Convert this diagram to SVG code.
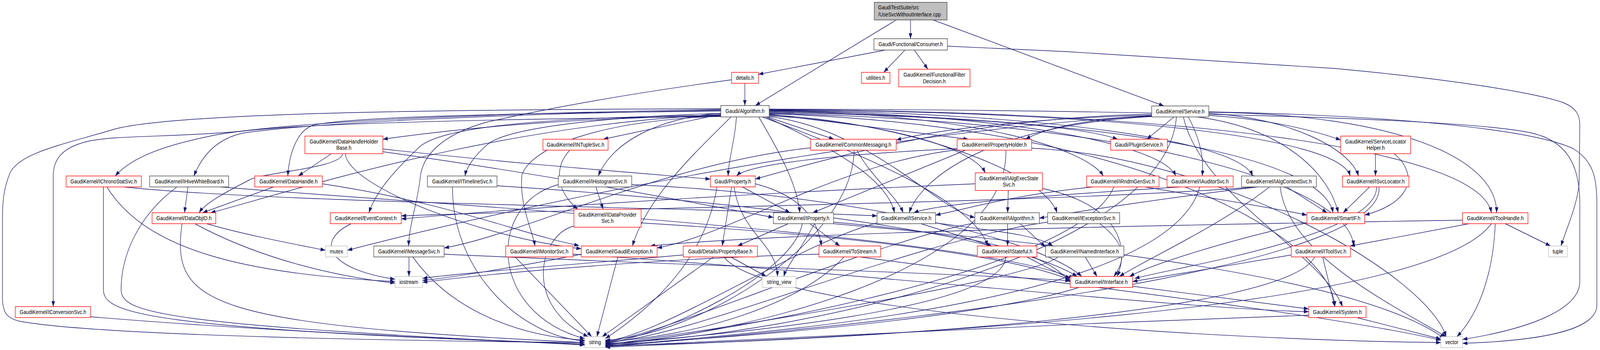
<svg xmlns="http://www.w3.org/2000/svg" width="4597" height="895" viewBox="0 0 4597 895" preserveAspectRatio="none" style="display:block;width:100vw;height:100vh">
<defs>
<marker id="ah" viewBox="0 0 14 10" refX="14" refY="5" markerWidth="14" markerHeight="10" markerUnits="userSpaceOnUse" orient="auto"><path d="M0,0 L14,5 L0,10 z" fill="#191970"/></marker>
<style>
.bx{fill:#fff;stroke-width:1.4}
.r{stroke:#ff0000}
.k{stroke:#404040}
.g{stroke:#bfbfbf}
text{font-family:"Liberation Sans",Arial,sans-serif;font-size:14px;fill:#000;text-anchor:middle}
.e{fill:none;stroke:#191970;stroke-width:1.4;marker-end:url(#ah)}
</style>
</defs>
<rect width="4597" height="895" fill="#fff"/>
<g id="edges">
<path class="e" d="M2616,51 L2616,99"/>
<path class="e" d="M2575,51 L2170,270"/>
<path class="e" d="M2681,51 L3344,271"/>
<path class="e" d="M2544,128 L2179,190"/>
<path class="e" d="M2600,128 L2539,185"/>
<path class="e" d="M2627,128 L2666,177"/>
<path class="e" d="M2722,118 L3064,132 L3834,175 C4200,205 4420,240 4490,262 C4530,276 4539,295 4539,320 L4537,470 C4530,530 4500,585 4485,629"/>
<path class="e" d="M2140,213 L2140,270"/>
<path class="e" d="M2102,204 C1800,240 1560,280 1400,312 C1265,345 1215,400 1208,450 C1200,520 1176,570 1174,629"/>
<path class="e" d="M2071,292 L1733,356"/>
<path class="e" d="M2071,296 C1700,302 1400,318 1100,356"/>
<path class="e" d="M2071,280 C1400,290 850,310 620,345 C480,370 380,400 331,450"/>
<path class="e" d="M2071,282 C1400,292 900,315 700,340 C620,355 580,400 557,450"/>
<path class="e" d="M2071,284 C1400,290 1000,300 900,320 C850,335 830,400 827,450"/>
<path class="e" d="M2071,290 C1700,300 1450,330 1400,370 C1360,400 1340,430 1336,450"/>
<path class="e" d="M2071,290 C1900,300 1760,360 1719,450"/>
<path class="e" d="M2071,293 C1400,320 800,500 605,544"/>
<path class="e" d="M2071,295 C1500,300 1250,330 1200,380 C1130,440 1080,490 1060,544"/>
<path class="e" d="M2071,297 C1700,310 1530,380 1500,445 C1490,520 1530,590 1537,629"/>
<path class="e" d="M2071,298 C1400,305 900,315 700,335 C500,352 330,345 250,362 C175,378 153,410 153,450 L153,784"/>
<path class="e" d="M2071,278 C1200,280 500,290 330,330 C180,370 60,390 30,440 C10,480 7,520 7,560 L7,760 C7,800 20,815 60,822 C300,860 1200,872 1680,876"/>
<path class="e" d="M2100,299 C2010,380 1860,500 1817,629"/>
<path class="e" d="M2116,299 C2110,370 2094,400 2092,450"/>
<path class="e" d="M2180,299 C2240,390 2290,470 2298,544"/>
<path class="e" d="M2205,299 L2396,356"/>
<path class="e" d="M2210,292 L2782,356"/>
<path class="e" d="M2210,288 C2700,295 3100,320 3211,356"/>
<path class="e" d="M2210,296 C2500,310 2790,370 2831,442"/>
<path class="e" d="M2210,284 C2800,290 3120,380 3170,450"/>
<path class="e" d="M2210,283 C2900,290 3340,370 3378,450"/>
<path class="e" d="M2210,282 C3000,288 3560,360 3599,450"/>
<path class="e" d="M2210,281 C3200,285 3850,350 3879,450"/>
<path class="e" d="M2200,299 C2400,380 2550,460 2570,544"/>
<path class="e" d="M2210,298 C2500,330 2700,540 2801,556"/>
<path class="e" d="M2210,294 C2600,310 3000,440 3037,544"/>
<path class="e" d="M2210,286 C3200,300 3800,400 3830,544"/>
<path class="e" d="M2210,280 C3400,284 4250,380 4285,544"/>
<path class="e" d="M2190,299 C2500,400 2800,520 2838,629"/>
<path class="e" d="M2210,290 C3300,310 3880,480 3889,629"/>
<path class="e" d="M2210,291 C3300,320 3830,620 3835,784"/>
<path class="e" d="M2210,279 C3200,281 4200,300 4400,340 C4500,360 4539,420 4539,520 L4539,720 C4539,790 4400,840 4202,868"/>
<path class="e" d="M3309,295 C3000,300 2700,330 2575,358"/>
<path class="e" d="M3309,297 C3100,305 3000,330 2946,356"/>
<path class="e" d="M3373,299 L3295,356"/>
<path class="e" d="M3473,295 C3650,305 3780,335 3852,358"/>
<path class="e" d="M3309,292 C2800,300 2400,400 2170,458"/>
<path class="e" d="M3414,299 C3445,350 3460,400 3454,450"/>
<path class="e" d="M3473,290 C3700,300 3880,380 3903,450"/>
<path class="e" d="M3309,298 C2850,320 2650,450 2612,544"/>
<path class="e" d="M3440,299 C3700,330 3820,450 3845,544"/>
<path class="e" d="M3473,287 C4000,292 4300,400 4300,544"/>
<path class="e" d="M3309,296 C2600,330 1600,500 998,640"/>
<path class="e" d="M3380,299 C3350,650 2300,860 1739,878"/>
<path class="e" d="M3473,286 C4000,295 4400,330 4520,380 C4575,410 4588,450 4588,520 L4588,780 C4588,850 4400,872 4202,878"/>
<path class="e" d="M3400,299 C3450,500 3800,650 3857,784"/>
<path class="e" d="M952,393 L857,450"/>
<path class="e" d="M1100,381 C1500,420 1800,440 2041,458"/>
<path class="e" d="M985,393 C980,430 760,440 717,460 C640,495 590,520 572,544"/>
<path class="e" d="M992,393 C1000,480 1400,610 1670,636"/>
<path class="e" d="M1100,388 C1600,450 2000,520 2222,556"/>
<path class="e" d="M1637,384 C1590,430 1600,490 1660,535"/>
<path class="e" d="M2329,378 C1900,420 1500,600 1276,634"/>
<path class="e" d="M2462,384 C2500,450 2575,500 2595,544"/>
<path class="e" d="M2454,384 C2450,620 2000,860 1739,870"/>
<path class="e" d="M2750,380 C2400,395 2150,420 2116,450"/>
<path class="e" d="M2774,384 L2335,544"/>
<path class="e" d="M2750,383 C2400,420 2100,600 1888,634"/>
<path class="e" d="M2890,384 C2900,700 2100,860 1739,880"/>
<path class="e" d="M2964,379 C3500,400 4100,700 4155,861"/>
<path class="e" d="M2102,478 L2075,629"/>
<path class="e" d="M2109,478 C2130,600 2230,620 2234,707"/>
<path class="e" d="M2133,478 L2270,544"/>
<path class="e" d="M2170,470 C2300,500 2350,560 2360,629"/>
<path class="e" d="M2060,478 C2020,700 1800,830 1739,866"/>
<path class="e" d="M1712,478 L1733,535"/>
<path class="e" d="M1604,472 C1400,520 1400,800 1680,866"/>
<path class="e" d="M1815,472 C2500,500 3000,620 3108,707"/>
<path class="e" d="M297,478 L297,740 C297,800 400,840 1680,880"/>
<path class="e" d="M307,478 C420,640 700,700 1135,720"/>
<path class="e" d="M356,478 C800,520 2000,530 2520,552"/>
<path class="e" d="M540,478 L530,544"/>
<path class="e" d="M508,478 C400,550 348,650 348,740 C348,800 450,830 1680,882"/>
<path class="e" d="M633,478 C1200,520 2800,600 3085,712"/>
<path class="e" d="M786,478 L582,544"/>
<path class="e" d="M926,470 C1300,520 1500,600 1664,628"/>
<path class="e" d="M1300,478 C1300,700 1500,860 1680,872"/>
<path class="e" d="M1428,475 C2200,520 2900,600 3095,707"/>
<path class="e" d="M523,572 C490,780 600,830 1680,876"/>
<path class="e" d="M560,572 C700,640 900,700 1135,724"/>
<path class="e" d="M594,572 C700,600 850,625 935,640"/>
<path class="e" d="M1009,572 C900,620 950,690 1135,714"/>
<path class="e" d="M1649,578 C1550,600 1500,780 1690,861"/>
<path class="e" d="M1842,570 C2400,600 2900,650 3075,716"/>
<path class="e" d="M2265,572 L2119,629"/>
<path class="e" d="M2327,572 L2413,629"/>
<path class="e" d="M2340,572 C2300,640 2260,680 2252,707"/>
<path class="e" d="M2305,572 C2280,700 1900,860 1739,878"/>
<path class="e" d="M2395,568 C2800,600 3000,640 3075,722"/>
<path class="e" d="M2395,572 C3000,620 3900,700 4150,866"/>
<path class="e" d="M2646,572 L2850,629"/>
<path class="e" d="M2688,570 C2850,590 2980,600 3025,629"/>
<path class="e" d="M2520,570 C2300,620 1900,860 1739,872"/>
<path class="e" d="M2895,572 L2895,629"/>
<path class="e" d="M2931,572 L3004,632"/>
<path class="e" d="M2801,570 C2500,620 1900,860 1739,874"/>
<path class="e" d="M3160,572 C3230,620 3240,660 3200,707"/>
<path class="e" d="M3010,568 C2600,620 2000,860 1739,876"/>
<path class="e" d="M2950,657 C3000,680 3040,700 3075,712"/>
<path class="e" d="M2890,657 C2880,800 2000,860 1739,880"/>
<path class="e" d="M3118,657 L3152,707"/>
<path class="e" d="M3040,657 C2950,720 2000,850 1739,882"/>
<path class="e" d="M3755,570 C3500,620 3300,680 3245,707"/>
<path class="e" d="M3614,478 C3400,500 3100,540 2986,558"/>
<path class="e" d="M3610,478 C3000,520 1800,530 1153,552"/>
<path class="e" d="M3648,478 C3500,580 3300,660 3216,707"/>
<path class="e" d="M3697,478 L3813,544"/>
<path class="e" d="M3678,478 C3700,650 4000,780 4155,861"/>
<path class="e" d="M3140,478 C2900,500 2800,530 2688,550"/>
<path class="e" d="M3290,478 C3500,510 3650,530 3755,550"/>
<path class="e" d="M3200,478 C3100,700 2000,860 1739,884"/>
<path class="e" d="M3393,478 C3000,500 2700,520 2625,544"/>
<path class="e" d="M3447,478 C3350,800 2000,860 1739,886"/>
<path class="e" d="M2897,487 L2895,544"/>
<path class="e" d="M2802,470 C2000,500 1400,540 1153,560"/>
<path class="e" d="M2995,482 C3200,520 3250,620 3210,707"/>
<path class="e" d="M3935,478 L3859,544"/>
<path class="e" d="M3955,478 C3960,600 3400,680 3260,712"/>
<path class="e" d="M3962,478 C3980,650 3000,800 1739,886"/>
<path class="e" d="M3952,393 L3952,450"/>
<path class="e" d="M4006,393 C4080,450 4050,520 3921,550"/>
<path class="e" d="M4221,572 L3879,629"/>
<path class="e" d="M4202,563 C3000,580 2200,600 1868,629"/>
<path class="e" d="M4285,572 C4100,800 2500,860 1739,888"/>
<path class="e" d="M4296,572 C4290,700 4250,800 4186,861"/>
<path class="e" d="M4325,572 L4455,629"/>
<path class="e" d="M3710,652 L3254,720"/>
<path class="e" d="M3777,657 C3700,800 2500,870 1739,884"/>
<path class="e" d="M3800,657 L3835,784"/>
<path class="e" d="M1175,657 L1175,707"/>
<path class="e" d="M1186,657 C1300,800 1500,860 1680,870"/>
<path class="e" d="M1276,650 C2000,680 2800,700 3075,718"/>
<path class="e" d="M1480,657 L1700,861"/>
<path class="e" d="M1646,650 C2500,700 3400,790 3760,797"/>
<path class="e" d="M1775,657 L1715,861"/>
<path class="e" d="M1670,650 C1500,680 1300,710 1214,717"/>
<path class="e" d="M2050,657 L1730,861"/>
<path class="e" d="M2099,657 L2202,707"/>
<path class="e" d="M1963,652 C1600,680 1300,700 1214,712"/>
<path class="e" d="M2080,657 C2200,800 3500,870 4140,876"/>
<path class="e" d="M2425,657 C2300,780 2000,860 1739,874"/>
<path class="e" d="M2470,657 C3000,720 3800,800 4140,870"/>
<path class="e" d="M2353,650 C1900,660 1400,700 1214,722"/>
<path class="e" d="M3254,732 L3760,790"/>
<path class="e" d="M3100,735 C2800,820 2000,870 1739,882"/>
<path class="e" d="M3898,812 L4140,867"/>
<path class="e" d="M3760,806 C3000,830 2000,870 1739,886"/>
<path class="e" d="M260,810 C800,850 1400,870 1680,880"/>
</g>
<g id="n-cpp"><rect x="2512" y="6" width="209" height="45" fill="#bfbfbf" stroke="#404040" stroke-width="1.4"/><text x="2523" y="24.5" style="text-anchor:start">GaudiTestSuite/src</text><text x="2523" y="42" style="text-anchor:start">/UseSvcWithoutInterface.cpp</text></g>
<g id="n-consumer"><rect class="bx k" x="2511" y="99" width="211" height="29"/><text x="2616.5" y="118">Gaudi/Functional/Consumer.h</text></g>
<g id="n-details"><rect class="bx r" x="2102" y="185" width="77" height="28"/><text x="2140.5" y="204">details.h</text></g>
<g id="n-utilities"><rect class="bx r" x="2475" y="185" width="82" height="28"/><text x="2516" y="204">utilities.h</text></g>
<g id="n-ffd"><rect class="bx r" x="2582" y="177" width="205" height="45"/><text x="2684.5" y="196">GaudiKernel/FunctionalFilter</text><text x="2684.5" y="213">Decision.h</text></g>
<g id="n-algorithm"><rect class="bx k" x="2071" y="270" width="139" height="29"/><text x="2140.5" y="289">Gaudi/Algorithm.h</text></g>
<g id="n-service"><rect class="bx k" x="3309" y="271" width="164" height="28"/><text x="3391" y="290">GaudiKernel/Service.h</text></g>
<g id="n-dhhb"><rect class="bx r" x="876" y="348" width="224" height="45"/><text x="988" y="367">GaudiKernel/DataHandleHolder</text><text x="988" y="383">Base.h</text></g>
<g id="n-intuplesvc"><rect class="bx r" x="1560" y="356" width="187" height="28"/><text x="1653.5" y="375">GaudiKernel/INTupleSvc.h</text></g>
<g id="n-commonmessaging"><rect class="bx r" x="2329" y="356" width="246" height="28"/><text x="2452" y="375">GaudiKernel/CommonMessaging.h</text></g>
<g id="n-propertyholder"><rect class="bx r" x="2750" y="356" width="214" height="28"/><text x="2857" y="375">GaudiKernel/PropertyHolder.h</text></g>
<g id="n-pluginservice"><rect class="bx r" x="3191" y="356" width="163" height="28"/><text x="3272.5" y="375">Gaudi/PluginService.h</text></g>
<g id="n-slh"><rect class="bx r" x="3852" y="348" width="201" height="45"/><text x="3952.5" y="367">GaudiKernel/ServiceLocator</text><text x="3952.5" y="383">Helper.h</text></g>
<g id="n-ichronostatsvc"><rect class="bx r" x="190" y="450" width="216" height="28"/><text x="298" y="469">GaudiKernel/IChronoStatSvc.h</text></g>
<g id="n-ihivewhiteboard"><rect class="bx k" x="430" y="450" width="227" height="28"/><text x="543.5" y="469">GaudiKernel/IHiveWhiteBoard.h</text></g>
<g id="n-datahandle"><rect class="bx r" x="732" y="450" width="194" height="28"/><text x="829" y="469">GaudiKernel/DataHandle.h</text></g>
<g id="n-itimelinesvc"><rect class="bx k" x="1228" y="450" width="200" height="28"/><text x="1328" y="469">GaudiKernel/ITimelineSvc.h</text></g>
<g id="n-ihistogramsvc"><rect class="bx k" x="1604" y="450" width="211" height="28"/><text x="1709.5" y="469">GaudiKernel/IHistogramSvc.h</text></g>
<g id="n-property"><rect class="bx r" x="2041" y="450" width="129" height="28"/><text x="2105.5" y="469">Gaudi/Property.h</text></g>
<g id="n-ialgexecstatesvc"><rect class="bx r" x="2802" y="442" width="193" height="45"/><text x="2898.5" y="461">GaudiKernel/IAlgExecState</text><text x="2898.5" y="477">Svc.h</text></g>
<g id="n-irndmgensvc"><rect class="bx r" x="3122" y="450" width="208" height="28"/><text x="3226" y="469">GaudiKernel/IRndmGenSvc.h</text></g>
<g id="n-iauditorsvc"><rect class="bx r" x="3353" y="450" width="190" height="28"/><text x="3448" y="469">GaudiKernel/IAuditorSvc.h</text></g>
<g id="n-ialgcontextsvc"><rect class="bx k" x="3567" y="450" width="215" height="28"/><text x="3674.5" y="469">GaudiKernel/IAlgContextSvc.h</text></g>
<g id="n-isvclocator"><rect class="bx r" x="3857" y="450" width="191" height="28"/><text x="3952.5" y="469">GaudiKernel/ISvcLocator.h</text></g>
<g id="n-dataobjid"><rect class="bx r" x="437" y="544" width="183" height="28"/><text x="528.5" y="563">GaudiKernel/DataObjID.h</text></g>
<g id="n-eventcontext"><rect class="bx r" x="949" y="544" width="204" height="28"/><text x="1051" y="563">GaudiKernel/EventContext.h</text></g>
<g id="n-idataprovidersvc"><rect class="bx r" x="1649" y="535" width="193" height="46"/><text x="1745.5" y="554">GaudiKernel/IDataProvider</text><text x="1745.5" y="570">Svc.h</text></g>
<g id="n-iproperty"><rect class="bx k" x="2222" y="544" width="173" height="28"/><text x="2308.5" y="563">GaudiKernel/IProperty.h</text></g>
<g id="n-iservice"><rect class="bx k" x="2520" y="544" width="168" height="28"/><text x="2604" y="563">GaudiKernel/IService.h</text></g>
<g id="n-ialgorithm"><rect class="bx k" x="2801" y="544" width="185" height="28"/><text x="2893.5" y="563">GaudiKernel/IAlgorithm.h</text></g>
<g id="n-iexceptionsvc"><rect class="bx k" x="3010" y="544" width="207" height="28"/><text x="3113.5" y="563">GaudiKernel/IExceptionSvc.h</text></g>
<g id="n-smartif"><rect class="bx r" x="3755" y="544" width="166" height="28"/><text x="3838" y="563">GaudiKernel/SmartIF.h</text></g>
<g id="n-toolhandle"><rect class="bx r" x="4202" y="544" width="188" height="28"/><text x="4296" y="563">GaudiKernel/ToolHandle.h</text></g>
<g id="n-mutex"><rect class="bx g" x="935" y="629" width="63" height="28"/><text x="966.5" y="648">mutex</text></g>
<g id="n-imessagesvc"><rect class="bx k" x="1074" y="629" width="202" height="28"/><text x="1175" y="648">GaudiKernel/IMessageSvc.h</text></g>
<g id="n-imonitorsvc"><rect class="bx r" x="1453" y="629" width="193" height="28"/><text x="1549.5" y="648">GaudiKernel/IMonitorSvc.h</text></g>
<g id="n-gaudiexception"><rect class="bx r" x="1670" y="629" width="218" height="28"/><text x="1779" y="648">GaudiKernel/GaudiException.h</text></g>
<g id="n-propertybase"><rect class="bx r" x="1963" y="629" width="213" height="28"/><text x="2069.5" y="648">Gaudi/Details/PropertyBase.h</text></g>
<g id="n-tostream"><rect class="bx r" x="2353" y="629" width="177" height="28"/><text x="2441.5" y="648">GaudiKernel/ToStream.h</text></g>
<g id="n-istateful"><rect class="bx r" x="2808" y="629" width="171" height="28"/><text x="2893.5" y="648">GaudiKernel/IStateful.h</text></g>
<g id="n-inamedinterface"><rect class="bx k" x="3004" y="629" width="225" height="28"/><text x="3116.5" y="648">GaudiKernel/INamedInterface.h</text></g>
<g id="n-itoolsvc"><rect class="bx r" x="3710" y="629" width="170" height="28"/><text x="3795" y="648">GaudiKernel/IToolSvc.h</text></g>
<g id="n-tuple"><rect class="bx g" x="4449" y="629" width="54" height="28"/><text x="4476" y="648">tuple</text></g>
<g id="n-iostream"><rect class="bx g" x="1135" y="707" width="79" height="28"/><text x="1174.5" y="726">iostream</text></g>
<g id="n-string_view"><rect class="bx g" x="2190" y="707" width="97" height="28"/><text x="2238.5" y="726">string_view</text></g>
<g id="n-iinterface"><rect class="bx r" x="3075" y="707" width="179" height="28"/><text x="3164.5" y="726">GaudiKernel/IInterface.h</text></g>
<g id="n-iconversionsvc"><rect class="bx r" x="44" y="784" width="216" height="28"/><text x="152" y="803">GaudiKernel/IConversionSvc.h</text></g>
<g id="n-system"><rect class="bx r" x="3760" y="784" width="165" height="28"/><text x="3842.5" y="803">GaudiKernel/System.h</text></g>
<g id="n-string"><rect class="bx g" x="1680" y="861" width="59" height="28"/><text x="1709.5" y="880">string</text></g>
<g id="n-vector"><rect class="bx g" x="4140" y="861" width="62" height="28"/><text x="4171" y="880">vector</text></g>
</svg>
